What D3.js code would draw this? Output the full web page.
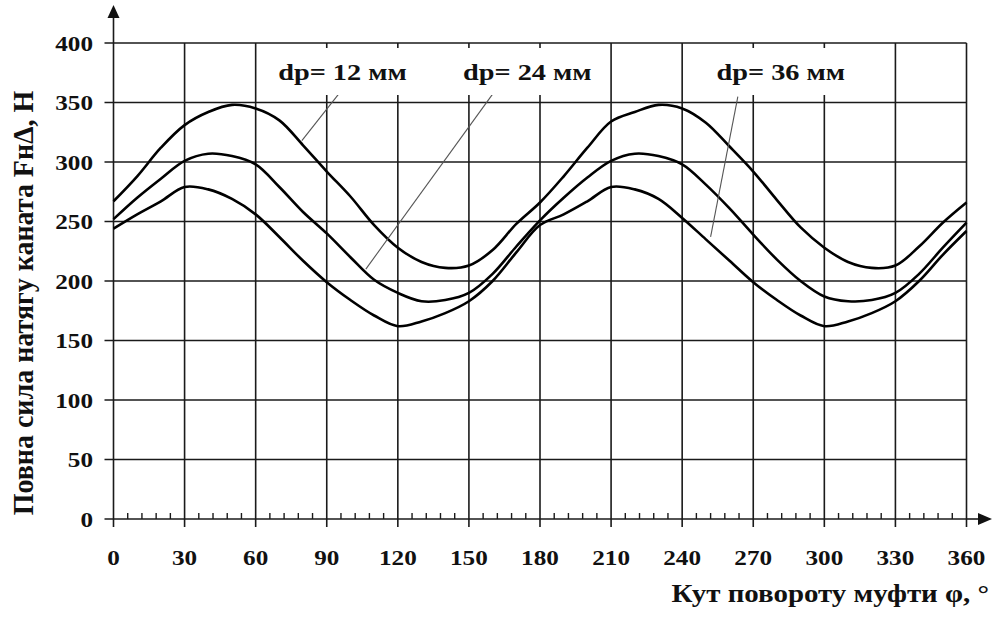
<!DOCTYPE html>
<html>
<head>
<meta charset="utf-8">
<script src="https://cdn.jsdelivr.net/npm/d3@7"></script>
<style>
    body { margin: 0; background: #fff; }
    svg { display: block; }
    .lbl { font-family: "Liberation Serif", "Times New Roman", serif; font-weight: bold; fill: #111; }
</style>
</head>
<body>
<svg id="chart" width="995" height="617"></svg>
<script>
// Angle of the coupling, degrees.
var angles = [0, 10, 20, 30, 40, 50, 60, 70, 80, 90, 100, 110, 120, 130, 140, 150, 160, 170, 180,
    190, 200, 210, 220, 230, 240, 250, 260, 270, 280, 290, 300, 310, 320, 330, 340, 350, 360];
// Full rope tension force, N.
var force12 = [267, 288, 312, 331, 342, 348, 345, 335, 314, 292, 271, 247, 228, 216, 211, 213, 226, 248, 266,
    288, 312, 334, 342, 348, 345, 333, 313, 292, 268, 245, 228, 216, 211, 213, 229, 249, 266];
var force24 = [252, 270, 286, 301, 307, 305, 298, 279, 258, 240, 220, 201, 190, 183, 184, 190, 206, 229, 251,
    270, 287, 301, 307, 305, 298, 281, 261, 239, 218, 200, 187, 183, 184, 190, 206, 228, 249];
var force36 = [244, 256, 267, 279, 277, 269, 256, 237, 217, 199, 184, 171, 162, 166, 173, 183, 200, 224, 247,
    256, 267, 279, 277, 269, 253, 235, 217, 199, 184, 171, 162, 166, 173, 183, 200, 222, 242];
var xTicks = [0, 30, 60, 90, 120, 150, 180, 210, 240, 270, 300, 330, 360];
var yTicks = [0, 50, 100, 150, 200, 250, 300, 350, 400];
// Label text, its anchor (degrees, N) and the leader line ends.
var labelTexts = ["dp= 12 мм", "dp= 24 мм", "dp= 36 мм"];
var labelAt = [[69.5, 369], [147.5, 369], [254.5, 369]];
var leaderFrom = [[95, 357], [160, 357], [263.5, 355]];
var leaderTo = [[79.5, 318], [106.5, 210], [252, 237]];

var xTitle = "Кут повороту муфти φ, °";
var yTitle = "Повна сила натягу каната FнΔ, Н";

var stretch = 1.18;
var svg = d3.select("#chart");
var x = d3.scaleLinear().domain([0, 360]).range([113.5, 966.5]);
var y = d3.scaleLinear().domain([0, 400]).range([519, 43]);

// Horizontal grid lines, with a short stub left of the axis.
svg.append("g")
    .selectAll("line")
    .data(yTicks)
    .enter()
    .append("line")
    .attr("x1", x(0) - 9)
    .attr("x2", x(360))
    .attr("y1", function (d) { return y(d); })
    .attr("y2", function (d) { return y(d); })
    .attr("stroke", "#1a1a1a")
    .attr("stroke-width", 1.6);

// Vertical grid lines, running through the axis as major ticks.
svg.append("g")
    .selectAll("line")
    .data(xTicks)
    .enter()
    .append("line")
    .attr("x1", function (d) { return x(d); })
    .attr("x2", function (d) { return x(d); })
    .attr("y1", function (d) { return d == 0 ? 16 : y(400); })
    .attr("y2", y(0) + 8)
    .attr("stroke", "#1a1a1a")
    .attr("stroke-width", 1.6);

// Minor ticks every 6 degrees.
var minor = d3.range(0, 361, 6).filter(function (d) { return d % 30 != 0; });
svg.append("g")
    .selectAll("line")
    .data(minor)
    .enter()
    .append("line")
    .attr("x1", function (d) { return x(d); })
    .attr("x2", function (d) { return x(d); })
    .attr("y1", y(0) - 6)
    .attr("y2", y(0))
    .attr("stroke", "#1a1a1a")
    .attr("stroke-width", 1.4);

// X axis extension and arrows.
svg.append("line")
    .attr("x1", x(360)).attr("x2", 980)
    .attr("y1", y(0)).attr("y2", y(0))
    .attr("stroke", "#1a1a1a").attr("stroke-width", 1.6);
svg.append("path")
    .attr("d", "M" + 992 + "," + y(0) + "L978," + (y(0) - 6) + "L978," + (y(0) + 6) + "Z")
    .attr("fill", "#111");
svg.append("path")
    .attr("d", "M" + x(0) + ",5L" + (x(0) - 6) + ",18L" + (x(0) + 6) + ",18Z")
    .attr("fill", "#111");

// Curves.
var line = d3.line()
    .x(function (d, i) { return x(angles[i]); })
    .y(function (d) { return y(d); })
    .curve(d3.curveCatmullRom.alpha(0.5));
[force12, force24, force36].forEach(function (series) {
    svg.append("path")
        .datum(series)
        .attr("d", line)
        .attr("fill", "none")
        .attr("stroke", "#000")
        .attr("stroke-width", 2.6)
        .attr("stroke-linejoin", "round");
});

// Leader lines.
svg.append("g")
    .selectAll("line")
    .data(leaderFrom)
    .enter()
    .append("line")
    .attr("x1", function (d) { return x(d[0]); })
    .attr("y1", function (d) { return y(d[1]); })
    .attr("x2", function (d, i) { return x(leaderTo[i][0]); })
    .attr("y2", function (d, i) { return y(leaderTo[i][1]); })
    .attr("stroke", "#555")
    .attr("stroke-width", 1.1);

// Label boxes hide the grid behind the labels.
var labels = svg.append("g")
    .selectAll("g")
    .data(labelTexts)
    .enter()
    .append("g");
labels.append("rect")
    .attr("x", function (d, i) { return x(labelAt[i][0]) - 8; })
    .attr("y", 48)
    .attr("width", 145)
    .attr("height", 47)
    .attr("fill", "#fff");
labels.append("text")
    .attr("class", "lbl")
    .attr("transform", function (d, i) {
        return "translate(" + x(labelAt[i][0]) + "," + y(labelAt[i][1]) + ") scale(" + stretch + ",1)";
    })
    .style("font-size", "24px")
    .text(function (d) { return d; });

// Tick labels.
svg.append("g")
    .selectAll("text")
    .data(yTicks)
    .enter()
    .append("text")
    .attr("class", "lbl")
    .attr("text-anchor", "end")
    .attr("transform", function (d) { return "translate(93," + (y(d) + 7.5) + ") scale(1.2,1)"; })
    .style("font-size", "21px")
    .text(function (d) { return d; });
svg.append("g")
    .selectAll("text")
    .data(xTicks)
    .enter()
    .append("text")
    .attr("class", "lbl")
    .attr("text-anchor", "middle")
    .attr("transform", function (d) { return "translate(" + x(d) + ",565) scale(1.2,1)"; })
    .style("font-size", "21px")
    .text(function (d) { return d; });

// Axis titles.
svg.append("text")
    .attr("class", "lbl")
    .attr("text-anchor", "end")
    .attr("transform", "translate(989,602) scale(" + stretch + ",1)")
    .style("font-size", "24.5px")
    .text(xTitle);
svg.append("text")
    .attr("class", "lbl")
    .attr("text-anchor", "middle")
    .attr("transform", "translate(33,303) rotate(-90) scale(1,1.05)")
    .style("font-size", "28px")
    .text(yTitle);
</script>
</body>
</html>
